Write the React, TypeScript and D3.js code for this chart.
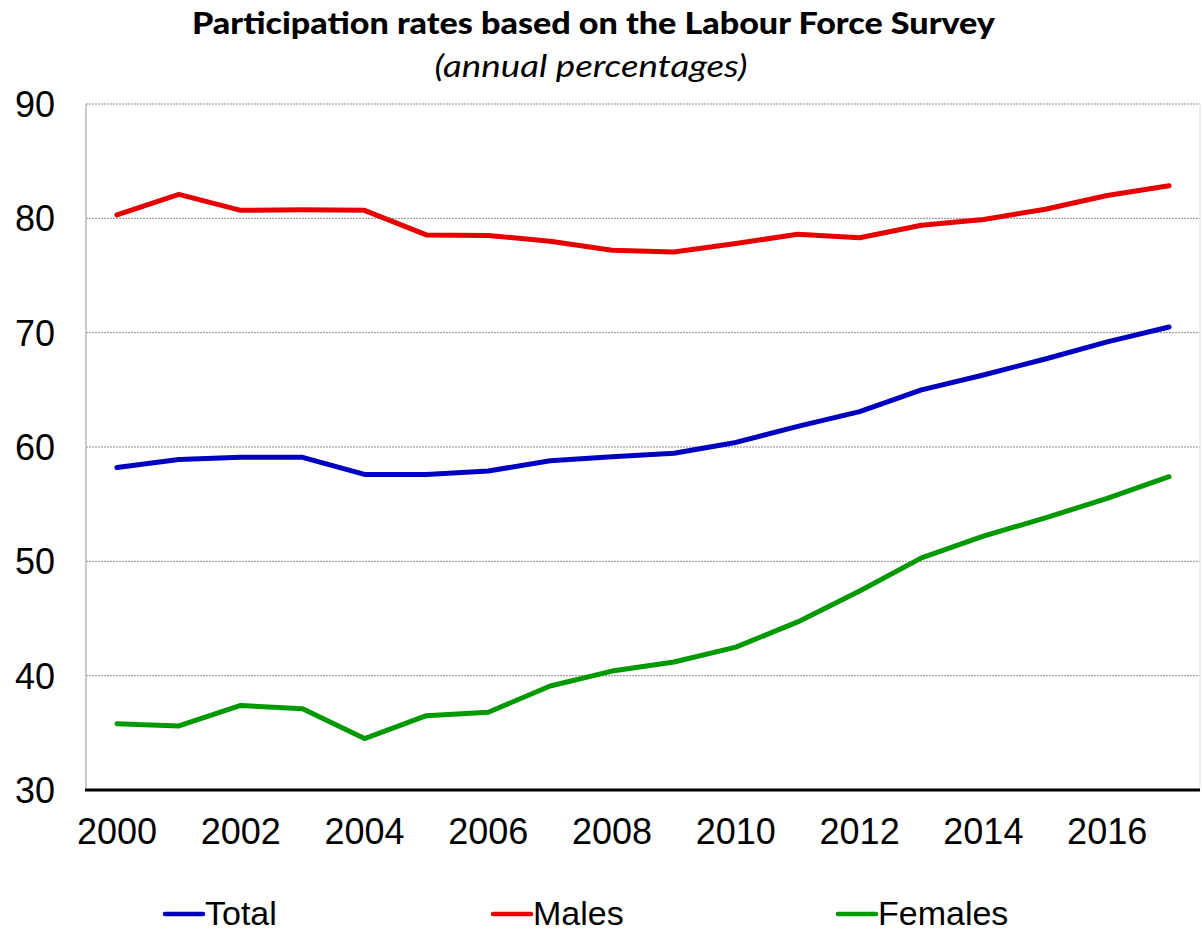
import React from "react";
import * as d3 from "d3";

const years = [2000, 2001, 2002, 2003, 2004, 2005, 2006, 2007, 2008, 2009, 2010, 2011, 2012, 2013, 2014, 2015, 2016, 2017];
const total = [58.2, 58.9, 59.1, 59.1, 57.6, 57.6, 57.9, 58.8, 59.15, 59.45, 60.4, 61.8, 63.1, 65.0, 66.3, 67.7, 69.2, 70.5];
const males = [80.3, 82.1, 80.7, 80.75, 80.7, 78.55, 78.5, 78.0, 77.2, 77.05, 77.8, 78.6, 78.3, 79.4, 79.9, 80.8, 82.0, 82.85];
const females = [35.8, 35.6, 37.4, 37.1, 34.5, 36.5, 36.8, 39.1, 40.4, 41.2, 42.5, 44.7, 47.4, 50.3, 52.2, 53.8, 55.5, 57.4];
const yTicks = [30, 40, 50, 60, 70, 80, 90];
const xTickLabels = [2000, 2002, 2004, 2006, 2008, 2010, 2012, 2014, 2016];
const seriesNames = ["Total", "Males", "Females"];
const seriesColors = ["#0000C0", "#E60000", "#009900"];

const W = 1202, H = 934;
const L = 86, R = 1200, T = 104, B = 790;

export default function App() {
  const x = d3.scalePoint<number>().domain(years).range([L, R]).padding(0.5);
  const y = d3.scaleLinear().domain([30, 90]).range([B, T]);
  const line = d3.line<number>().x((_, i) => x(years[i]) as number).y((v) => y(v));
  const series = [total, males, females];
  const legendX = [165, 493, 838];
  const axisFont = "'Liberation Sans', Arial, sans-serif";

  return (
    <svg width={W} height={H} style={{ position: "absolute", left: 0, top: 0 }} xmlns="http://www.w3.org/2000/svg">
      <rect x={0} y={0} width={W} height={H} fill="#fff" />
      <text x={593.5} y={34} textAnchor="middle" fontFamily="Lato, 'Open Sans', sans-serif" fontWeight="900" fontSize={30} textLength={803} lengthAdjust="spacingAndGlyphs">
        Participation rates based on the Labour Force Survey
      </text>
      <text x={591} y={77} textAnchor="middle" fontFamily="Lato, 'Open Sans', sans-serif" fontStyle="italic" fontSize={30} textLength={313} lengthAdjust="spacingAndGlyphs">
        (annual percentages)
      </text>
      {yTicks.filter((t) => t > 30).map((t) => (
        <line key={"g" + t} x1={L} x2={R} y1={y(t)} y2={y(t)} stroke="#8c8c8c" strokeWidth={1} strokeDasharray="2,1" />
      ))}
      <line x1={L} x2={L} y1={T} y2={B} stroke="#b8b8b8" strokeWidth={1.5} />
      <line x1={R} x2={R} y1={T} y2={B} stroke="#e0e0e0" strokeWidth={1} />
      <line x1={L - 1} x2={R} y1={B} y2={B} stroke="#000" strokeWidth={3} />
      {yTicks.map((t) => (
        <text key={"y" + t} x={55} y={y(t)} dy="0.36em" textAnchor="end" fontFamily={axisFont} fontSize={36} fill="#000">
          {t}
        </text>
      ))}
      {xTickLabels.map((t) => (
        <text key={"x" + t} x={x(t) as number} y={844} textAnchor="middle" fontFamily={axisFont} fontSize={36} fill="#000">
          {t}
        </text>
      ))}
      {series.map((s, i) => (
        <path key={"s" + i} d={line(s) || ""} fill="none" stroke={seriesColors[i]} strokeWidth={5} strokeLinejoin="round" strokeLinecap="round" />
      ))}
      {seriesNames.map((n, i) => (
        <g key={"l" + n}>
          <line x1={legendX[i]} x2={legendX[i] + 38} y1={914} y2={914} stroke={seriesColors[i]} strokeWidth={4.5} strokeLinecap="round" />
          <text x={legendX[i] + 40} y={925} fontFamily={axisFont} fontSize={34} fill="#000">
            {n}
          </text>
        </g>
      ))}
    </svg>
  );
}
